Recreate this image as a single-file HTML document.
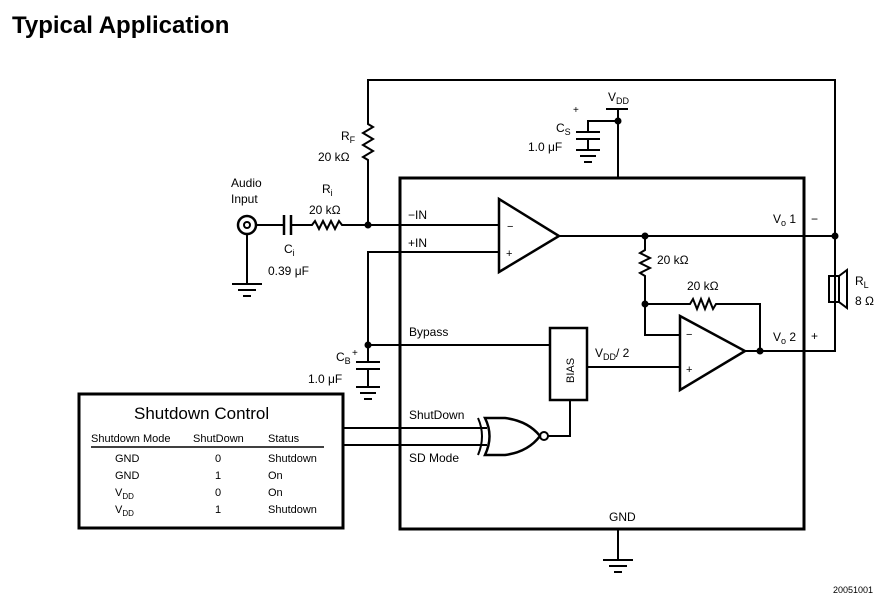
<!DOCTYPE html>
<html><head><style>
body{margin:0;background:#fff;width:896px;height:606px;overflow:hidden}
svg text{font-family:"Liberation Sans",sans-serif;fill:#000}
</style></head><body>
<svg width="896" height="606" viewBox="0 0 896 606" xmlns="http://www.w3.org/2000/svg">
<text x="12" y="33" font-size="24" font-weight="bold">Typical Application</text>
<text x="833" y="593" font-size="9">20051001</text>
<g stroke="#000" stroke-width="2" fill="none">
<rect x="400" y="178" width="404" height="351" stroke-width="3"/>
<rect x="79" y="394" width="264" height="134" stroke-width="3"/>
<!-- feedback -->
<polyline points="368,225 368,160 363,157 373,151 363,145 373,139 363,133 373,127 368,124 368,80 835,80 835,351 760,351"/>
<!-- VDD -->
<line x1="606" y1="109" x2="628" y2="109"/>
<line x1="618" y1="109" x2="618" y2="178"/>
<polyline points="618,121 588,121 588,132"/>
<line x1="576" y1="132" x2="600" y2="132"/><line x1="576" y1="139" x2="600" y2="139"/>
<line x1="588" y1="139" x2="588" y2="150"/>
<line x1="576" y1="150" x2="600" y2="150"/><line x1="580" y1="156" x2="596" y2="156"/><line x1="584" y1="162" x2="592" y2="162"/>
<!-- input -->
<circle cx="247" cy="225" r="9" stroke-width="2.5"/><circle cx="247" cy="225" r="3"/>
<line x1="256" y1="225" x2="284" y2="225"/>
<line x1="284" y1="215" x2="284" y2="235" stroke-width="2.5"/><line x1="291" y1="215" x2="291" y2="235" stroke-width="2.5"/>
<polyline points="291,225 312,225 315,221 319,229 323,221 327,229 331,221 335,229 339,221 342,225 499,225"/>
<line x1="247" y1="234" x2="247" y2="284"/>
<line x1="232" y1="284" x2="262" y2="284"/><line x1="238" y1="290" x2="256" y2="290"/><line x1="243" y1="296" x2="251" y2="296"/>
<!-- +IN / bypass -->
<polyline points="499,252 368,252 368,362"/>
<line x1="368" y1="345" x2="550" y2="345"/>
<line x1="356" y1="362" x2="380" y2="362"/><line x1="356" y1="369" x2="380" y2="369"/>
<line x1="368" y1="369" x2="368" y2="387"/>
<line x1="356" y1="387" x2="380" y2="387"/><line x1="360" y1="393" x2="376" y2="393"/><line x1="364" y1="399" x2="372" y2="399"/>
<!-- opamp1 -->
<polygon points="499,199 499,272 559,236" stroke-width="2.5"/>
<line x1="559" y1="236" x2="835" y2="236"/>
<polyline points="645,236 645,250 640,253 650,258 640,263 650,268 640,273 645,276 645,335 680,335"/>
<polyline points="645,304 690,304 693,299 697,309 701,299 705,309 709,299 713,309 716,304 760,304 760,351"/>
<!-- opamp2 -->
<polygon points="680,316 680,390 745,351" stroke-width="2.5"/>
<line x1="745" y1="351" x2="760" y2="351"/>
<rect x="550" y="328" width="37" height="72" stroke-width="2.5"/>
<line x1="587" y1="367" x2="680" y2="367"/>
<polyline points="570,400 570,436 548,436"/>
<!-- speaker -->
<rect x="829" y="276" width="10" height="26"/>
<polygon points="839,276 847,270 847,308 839,302"/>
<!-- gate -->
<line x1="343" y1="428" x2="487" y2="428"/><line x1="343" y1="445" x2="487" y2="445"/>
<path d="M478,418 Q486,436 478,455" />
<path d="M485,418 Q494,436 485,455 L505,455 Q528,452 540,436 Q528,421 505,418 Z" stroke-width="2.5"/>
<circle cx="544" cy="436" r="4"/>
<!-- GND -->
<line x1="618" y1="529" x2="618" y2="560"/>
<line x1="603" y1="560" x2="633" y2="560"/><line x1="609" y1="566" x2="627" y2="566"/><line x1="614" y1="572" x2="622" y2="572"/>
<line x1="91" y1="447" x2="324" y2="447" stroke-width="1.5"/>
</g>
<g fill="#000">
<circle cx="618" cy="121" r="3.5"/><circle cx="368" cy="225" r="3.5"/><circle cx="368" cy="345" r="3.5"/>
<circle cx="645" cy="236" r="3.5"/><circle cx="835" cy="236" r="3.5"/><circle cx="645" cy="304" r="3.5"/><circle cx="760" cy="351" r="3.5"/>
</g>
<g font-size="12">
<text x="608" y="101">V<tspan font-size="9" dy="3">DD</tspan></text>
<text x="573" y="113" font-size="10">+</text>
<text x="556" y="132">C<tspan font-size="9" dy="3">S</tspan></text>
<text x="528" y="151">1.0 μF</text>
<text x="341" y="140">R<tspan font-size="9" dy="3">F</tspan></text>
<text x="318" y="161">20 kΩ</text>
<text x="231" y="187">Audio</text><text x="231" y="203">Input</text>
<text x="322" y="193">R<tspan font-size="9" dy="3">i</tspan></text>
<text x="309" y="214">20 kΩ</text>
<text x="284" y="253">C<tspan font-size="9" dy="3">i</tspan></text>
<text x="268" y="275">0.39 μF</text>
<text x="408" y="219">−IN</text><text x="408" y="247">+IN</text>
<text x="507" y="230" font-size="11">−</text><text x="506" y="257" font-size="11">+</text>
<text x="409" y="336">Bypass</text>
<text x="352" y="356" font-size="10">+</text>
<text x="336" y="361">C<tspan font-size="9" dy="3">B</tspan></text>
<text x="308" y="383">1.0 μF</text>
<text x="574" y="383" font-size="11" transform="rotate(-90 574 383)">BIAS</text>
<text x="595" y="357">V<tspan font-size="9" dy="3">DD</tspan><tspan dy="-3">/ 2</tspan></text>
<text x="657" y="264">20 kΩ</text><text x="687" y="290">20 kΩ</text>
<text x="686" y="338" font-size="11">−</text><text x="686" y="373" font-size="11">+</text>
<text x="773" y="223">V<tspan font-size="9" dy="3">o</tspan><tspan dy="-3"> 1</tspan></text>
<text x="811" y="223">−</text>
<text x="773" y="341">V<tspan font-size="9" dy="3">o</tspan><tspan dy="-3"> 2</tspan></text>
<text x="811" y="340">+</text>
<text x="855" y="285">R<tspan font-size="9" dy="3">L</tspan></text>
<text x="855" y="305">8 Ω</text>
<text x="409" y="419">ShutDown</text><text x="409" y="462">SD Mode</text>
<text x="609" y="521">GND</text>
<text x="134" y="419" font-size="17">Shutdown Control</text>
<g font-size="11">
<text x="91" y="442">Shutdown Mode</text><text x="193" y="442">ShutDown</text><text x="268" y="442">Status</text>
<text x="115" y="462">GND</text><text x="215" y="462">0</text><text x="268" y="462">Shutdown</text>
<text x="115" y="479">GND</text><text x="215" y="479">1</text><text x="268" y="479">On</text>
<text x="115" y="496">V<tspan font-size="8" dy="3">DD</tspan></text><text x="215" y="496">0</text><text x="268" y="496">On</text>
<text x="115" y="513">V<tspan font-size="8" dy="3">DD</tspan></text><text x="215" y="513">1</text><text x="268" y="513">Shutdown</text>
</g>
</g>
</svg>
</body></html>
